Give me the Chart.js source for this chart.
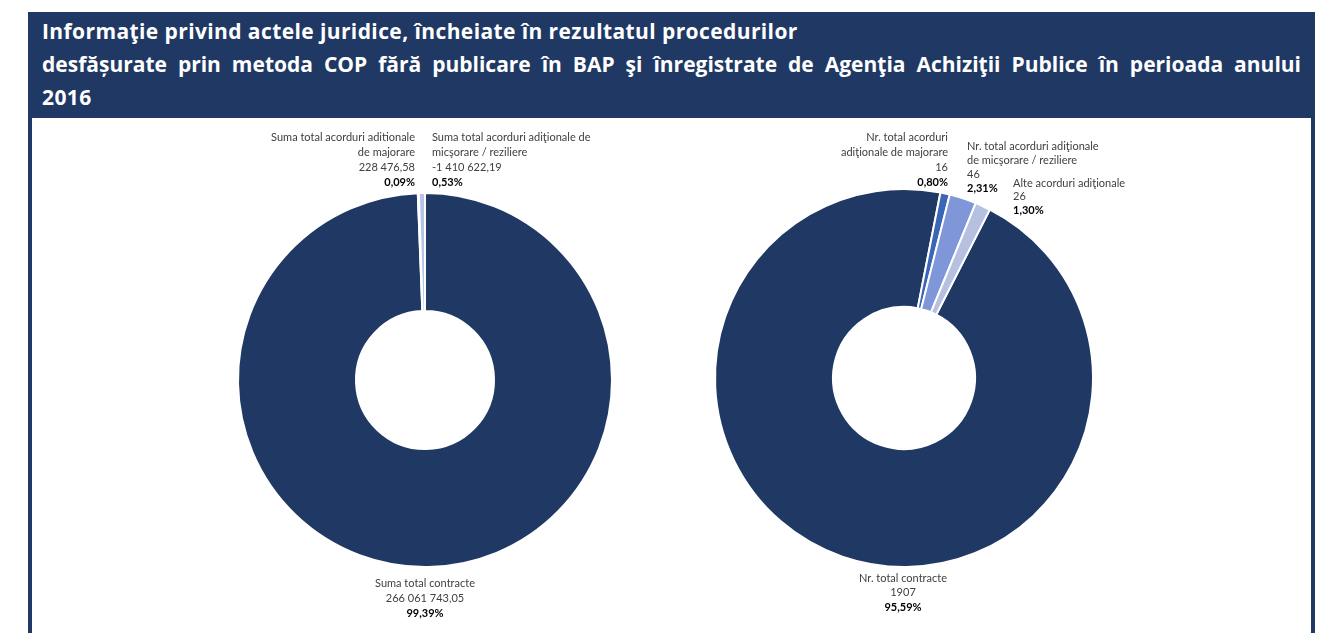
<!DOCTYPE html>
<html>
<head>
<meta charset="utf-8">
<script src="https://cdn.jsdelivr.net/npm/chart.js@4.4.0/dist/chart.umd.min.js"></script>
<style>
    html, body { margin: 0; padding: 0; background: #fff; width: 1325px; height: 633px; overflow: hidden; }
    #frame {
        position: absolute; left: 28px; top: 12px; width: 1279px; height: 640px;
        border-left: 4px solid #203864; border-right: 4px solid #203864;
    }
    #header {
        position: absolute; left: 0; top: 0; width: 1279px; height: 106px; background: #203864;
        color: #fff; font-family: "Open Sans", sans-serif; font-weight: bold; font-size: 21px;
        letter-spacing: 0.4px; line-height: 33px; box-sizing: border-box; padding: 3px 10px 0 10px; white-space: nowrap;
    }
    #header .just { text-align: justify; text-align-last: justify; white-space: normal; letter-spacing: 0; }
    canvas { position: absolute; }
</style>
</head>
<body>
<div id="frame">
    <div id="header">
        <div>Informaţie privind actele juridice, încheiate în rezultatul procedurilor</div>
        <div class="just">desfășurate prin metoda COP fără publicare în BAP şi înregistrate de Agenţia Achiziţii Publice în perioada anului</div>
        <div>2016</div>
    </div>
</div>
<canvas id="sumChart" style="left:33px; top:118px; width:630px; height:515px;"></canvas>
<canvas id="nrChart" style="left:663px; top:118px; width:648px; height:515px;"></canvas>
<script>
// date - suma
const sumLabels = ['Suma total contracte', 'Suma total acorduri aditionale\nde majorare', 'Suma total acorduri adiţionale de\nmicşorare / reziliere'];
const sumValues = [266061743.05, 228476.58, -1410622.19];
const sumColors = ['#203864', '#4472c4', '#b4c5e8'];

// date - numar
const nrLabels = ['Nr. total contracte', 'Nr. total acorduri\nadiţionale de majorare', 'Nr. total acorduri adiţionale\nde micşorare / reziliere', 'Alte acorduri adiţionale'];
const nrValues = [1907, 16, 46, 26];
const nrColors = ['#203864', '#3a66b8', '#7f97d8', '#b6c1e2'];

// formatare numere: 266 061 743,05
function fmtNum(v, dec) {
    const neg = v < 0;
    let s = Math.abs(v).toFixed(dec);
    let [intPart, decPart] = s.split('.');
    if (intPart.length > 4 || dec > 0) {
        intPart = intPart.replace(/\B(?=(\d{3})+(?!\d))/g, ' ');
    }
    return (neg ? '-' : '') + intPart + (decPart ? ',' + decPart : '');
}

function fmtPct(v, total) {
    return (Math.abs(v) / total * 100).toFixed(2).replace('.', ',') + '%';
}

// plugin pentru etichete
const labelPlugin = {
    id: 'donutLabels',
    afterDraw(chart) {
        const opts = chart.options.plugins.donutLabels;
        const arc = chart.getDatasetMeta(0).data[0];
        const cx = arc.x, cy = arc.y;
        const ds = chart.data.datasets[0];
        const total = ds.data.reduce((a, b) => a + b, 0);
        const ctx = chart.ctx;
        ctx.save();
        ctx.textBaseline = 'middle';
        opts.place.forEach((p, i) => {
            const lines = chart.data.labels[i].split('\n');
            lines.push(fmtNum(opts.raw[i], opts.decimals));
            let y = cy + p.dy;
            ctx.textAlign = p.align;
            ctx.font = '11px Lato, sans-serif';
            ctx.fillStyle = '#404040';
            lines.forEach(t => {
                ctx.fillText(t, cx + p.dx, y);
                y += p.lh;
            });
            ctx.font = 'bold 11px Lato, sans-serif';
            ctx.fillStyle = '#000';
            ctx.fillText(fmtPct(ds.data[i], total), cx + p.dx, y);
        });
        ctx.restore();
    }
};

function makeDonut(id, labels, raw, colors, decimals, rotation, cutout, padding, place) {
    const ctx = document.getElementById(id).getContext('2d');
    return new Chart(ctx, {
        type: 'doughnut',
        data: {
            labels: labels,
            datasets: [{
                data: raw.map(v => Math.abs(v)),
                backgroundColor: colors,
                borderColor: '#ffffff',
                borderWidth: 2
            }]
        },
        options: {
            responsive: false,
            maintainAspectRatio: false,
            animation: false,
            rotation: rotation,
            cutout: cutout,
            layout: { padding: padding },
            plugins: {
                legend: { display: false },
                tooltip: { enabled: false },
                donutLabels: { raw: raw, decimals: decimals, place: place }
            }
        },
        plugins: [labelPlugin]
    });
}

// dimensiuni canvas
['sumChart', 'nrChart'].forEach(id => {
    const c = document.getElementById(id);
    c.width = parseInt(c.style.width);
    c.height = parseInt(c.style.height);
});

makeDonut('sumChart', sumLabels, sumValues, sumColors, 2, 0, 69,
    { left: 204, right: 50, top: 74, bottom: 65 },
    [
        { dx: 0, dy: 203, align: 'center', lh: 15 },
        { dx: -10, dy: -243, align: 'right', lh: 15 },
        { dx: 7, dy: -243, align: 'left', lh: 15 }
    ]);

makeDonut('nrChart', nrLabels, nrValues, nrColors, 0, 27, 71,
    { left: 51, right: 217, top: 70, bottom: 65 },
    [
        { dx: -1, dy: 200, align: 'center', lh: 14.5 },
        { dx: 44, dy: -241, align: 'right', lh: 15 },
        { dx: 63, dy: -232, align: 'left', lh: 14 },
        { dx: 109, dy: -195, align: 'left', lh: 13.5 }
    ]);
</script>
</body>
</html>
